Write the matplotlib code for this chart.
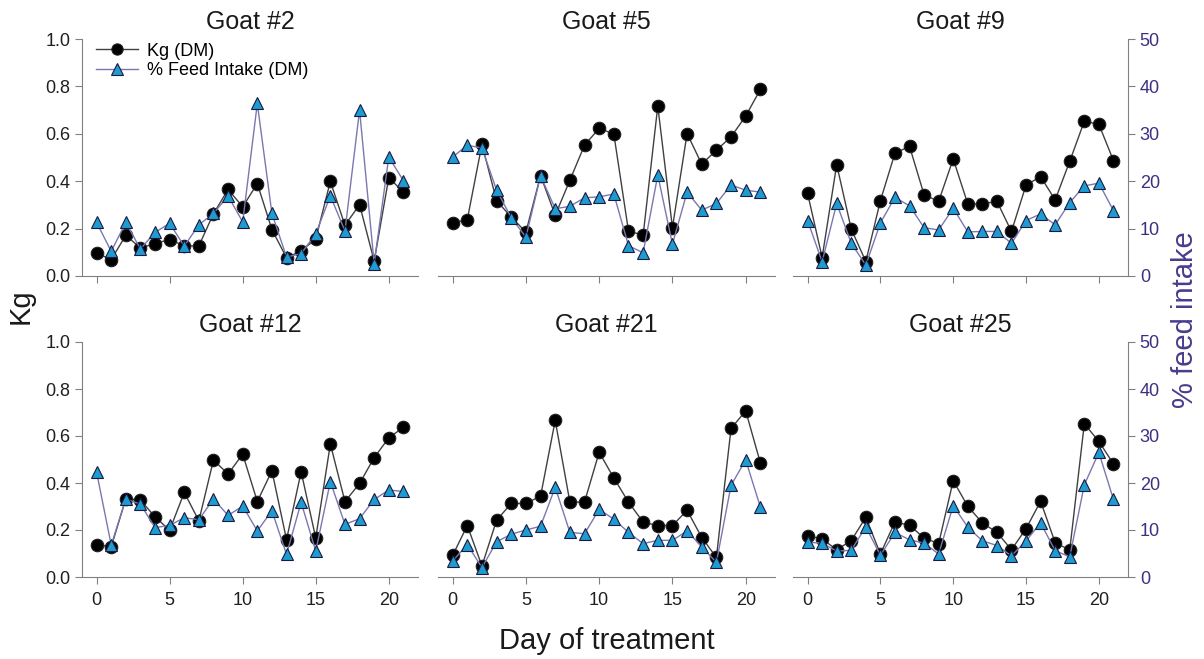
import matplotlib.pyplot as plt

plt.rcParams['font.family'] = ['Liberation Sans', 'DejaVu Sans']

days = list(range(22))
goats = ["Goat #2", "Goat #5", "Goat #9", "Goat #12", "Goat #21", "Goat #25"]

# Kg of dry matter per day
kg_2 = [0.097, 0.069, 0.172, 0.118, 0.137, 0.154, 0.127, 0.127, 0.263, 0.365, 0.292,
        0.390, 0.196, 0.077, 0.106, 0.156, 0.399, 0.214, 0.301, 0.063, 0.415, 0.354]
kg_5 = [0.224, 0.238, 0.556, 0.317, 0.249, 0.185, 0.424, 0.256, 0.404, 0.552, 0.623,
        0.599, 0.190, 0.172, 0.717, 0.204, 0.601, 0.472, 0.531, 0.587, 0.675, 0.787]
kg_9 = [0.349, 0.078, 0.470, 0.198, 0.061, 0.318, 0.518, 0.547, 0.343, 0.315, 0.494,
        0.304, 0.304, 0.315, 0.188, 0.384, 0.419, 0.321, 0.484, 0.653, 0.640, 0.487]
kg_12 = [0.138, 0.128, 0.333, 0.327, 0.256, 0.199, 0.360, 0.239, 0.498, 0.438, 0.523,
         0.321, 0.452, 0.159, 0.448, 0.166, 0.566, 0.321, 0.398, 0.508, 0.592, 0.637]
kg_21 = [0.092, 0.219, 0.047, 0.242, 0.313, 0.313, 0.344, 0.666, 0.319, 0.319, 0.531,
         0.421, 0.319, 0.233, 0.219, 0.219, 0.284, 0.168, 0.083, 0.632, 0.707, 0.486]
kg_25 = [0.176, 0.162, 0.116, 0.155, 0.254, 0.098, 0.234, 0.220, 0.166, 0.142, 0.410,
         0.301, 0.230, 0.190, 0.116, 0.206, 0.322, 0.146, 0.115, 0.652, 0.577, 0.481]

# % feed intake (dry matter)
pct_2 = [11.3, 5.2, 11.3, 5.7, 9.2, 11.1, 6.3, 10.8, 13.2, 16.9, 11.4,
         36.4, 13.2, 4.0, 4.7, 8.9, 16.9, 9.5, 35.0, 2.6, 25.1, 20.1]
pct_5 = [25.1, 27.6, 27.0, 18.1, 12.3, 8.2, 21.1, 14.2, 14.7, 16.5, 16.7,
         17.3, 6.4, 4.9, 21.3, 6.7, 17.7, 13.9, 15.3, 19.2, 18.1, 17.7]
pct_9 = [11.7, 3.0, 15.3, 6.9, 2.3, 11.2, 16.6, 14.8, 10.2, 9.7, 14.3,
         9.3, 9.4, 9.4, 6.9, 11.7, 13.1, 10.8, 15.5, 19.0, 19.6, 13.8]
pct_12 = [22.3, 6.8, 16.6, 15.5, 10.5, 11.0, 12.6, 12.2, 16.6, 13.1, 15.1,
          9.8, 14.1, 4.8, 15.9, 5.5, 20.3, 11.2, 12.4, 16.5, 18.5, 18.2]
pct_21 = [3.4, 6.9, 2.0, 7.5, 9.1, 10.0, 10.8, 19.1, 9.5, 9.2, 14.4,
          12.3, 9.5, 7.1, 7.8, 7.8, 9.8, 6.4, 3.1, 19.5, 24.9, 14.9]
pct_25 = [7.4, 7.2, 5.5, 5.7, 10.7, 4.6, 9.5, 7.9, 7.2, 4.9, 15.2,
          10.6, 7.7, 6.7, 4.5, 7.7, 11.5, 5.6, 4.3, 19.6, 26.5, 16.5]

kg_all = [kg_2, kg_5, kg_9, kg_12, kg_21, kg_25]
pct_all = [pct_2, pct_5, pct_9, pct_12, pct_21, pct_25]

W, H = 1204, 659
lefts = [82, 438, 793]
widths = [336, 337, 335]
tops = [39, 342]
heights = [237, 235]

spine_c = '#808080'
purple = '#3d3080'

fig = plt.figure(figsize=(W / 100, H / 100), dpi=100)

for i in range(6):
    r, c = divmod(i, 3)
    rect = [lefts[c] / W, (H - tops[r] - heights[r]) / H, widths[c] / W, heights[r] / H]
    ax = fig.add_axes(rect)
    ax2 = ax.twinx()

    l1, = ax.plot(days, kg_all[i], '-o', color='#404040', lw=1, ms=9,
                  mfc='black', mec='#202020', mew=0.8, label='Kg (DM)')
    l2, = ax2.plot(days, pct_all[i], '-^', color='#7a78b0', lw=1, ms=9,
                   mfc='#1e9bd0', mec='#1a1a40', mew=0.8, label='% Feed Intake (DM)')

    ax.set_xlim(-1, 22)
    ax.set_ylim(0, 1)
    ax2.set_ylim(0, 50)
    ax.set_xticks([0, 5, 10, 15, 20])
    ax.set_yticks([0, 0.2, 0.4, 0.6, 0.8, 1.0])
    ax2.set_yticks([0, 10, 20, 30, 40, 50])

    for a in (ax, ax2):
        for s in a.spines.values():
            s.set_visible(False)
            s.set_color(spine_c)
    ax.spines['bottom'].set_visible(True)
    ax.tick_params(axis='x', direction='out', length=5, color=spine_c,
                   labelsize=13, pad=6, labelcolor='#202020')
    if r == 0:
        ax.tick_params(axis='x', labelbottom=False)

    if c == 0:
        ax.spines['left'].set_visible(True)
        ax.tick_params(axis='y', direction='out', length=5, color=spine_c,
                       labelsize=13, labelcolor='#202020')
        ax.set_yticklabels(['0.0', '0.2', '0.4', '0.6', '0.8', '1.0'])
    else:
        ax.tick_params(axis='y', left=False, labelleft=False)

    if c == 2:
        ax2.spines['right'].set_visible(True)
        ax2.tick_params(axis='y', direction='out', length=5, color=spine_c,
                        labelsize=13, labelcolor=purple)
    else:
        ax2.tick_params(axis='y', right=False, labelright=False)

    ax.set_title(goats[i], fontsize=18, pad=7, color='#1a1a1a')

    if i == 0:
        ax.legend(handles=[l1, l2], loc='upper left', bbox_to_anchor=(0.01, 1.03),
                  frameon=False, fontsize=13, handlelength=2.3, handletextpad=0.5,
                  labelspacing=0.15, borderaxespad=0.2, markerscale=0.9)

fig.text(0.017, 0.535, 'Kg', rotation=90, fontsize=21, ha='center', va='center',
         color='#1a1a1a')
fig.text(0.984, 0.515, '% feed intake', rotation=90, fontsize=21, ha='center',
         va='center', color='#4a3c8c')
fig.text(0.504, 0.028, 'Day of treatment', fontsize=21, ha='center', va='center',
         color='#1a1a1a')

fig.savefig('out.png', dpi=100)
